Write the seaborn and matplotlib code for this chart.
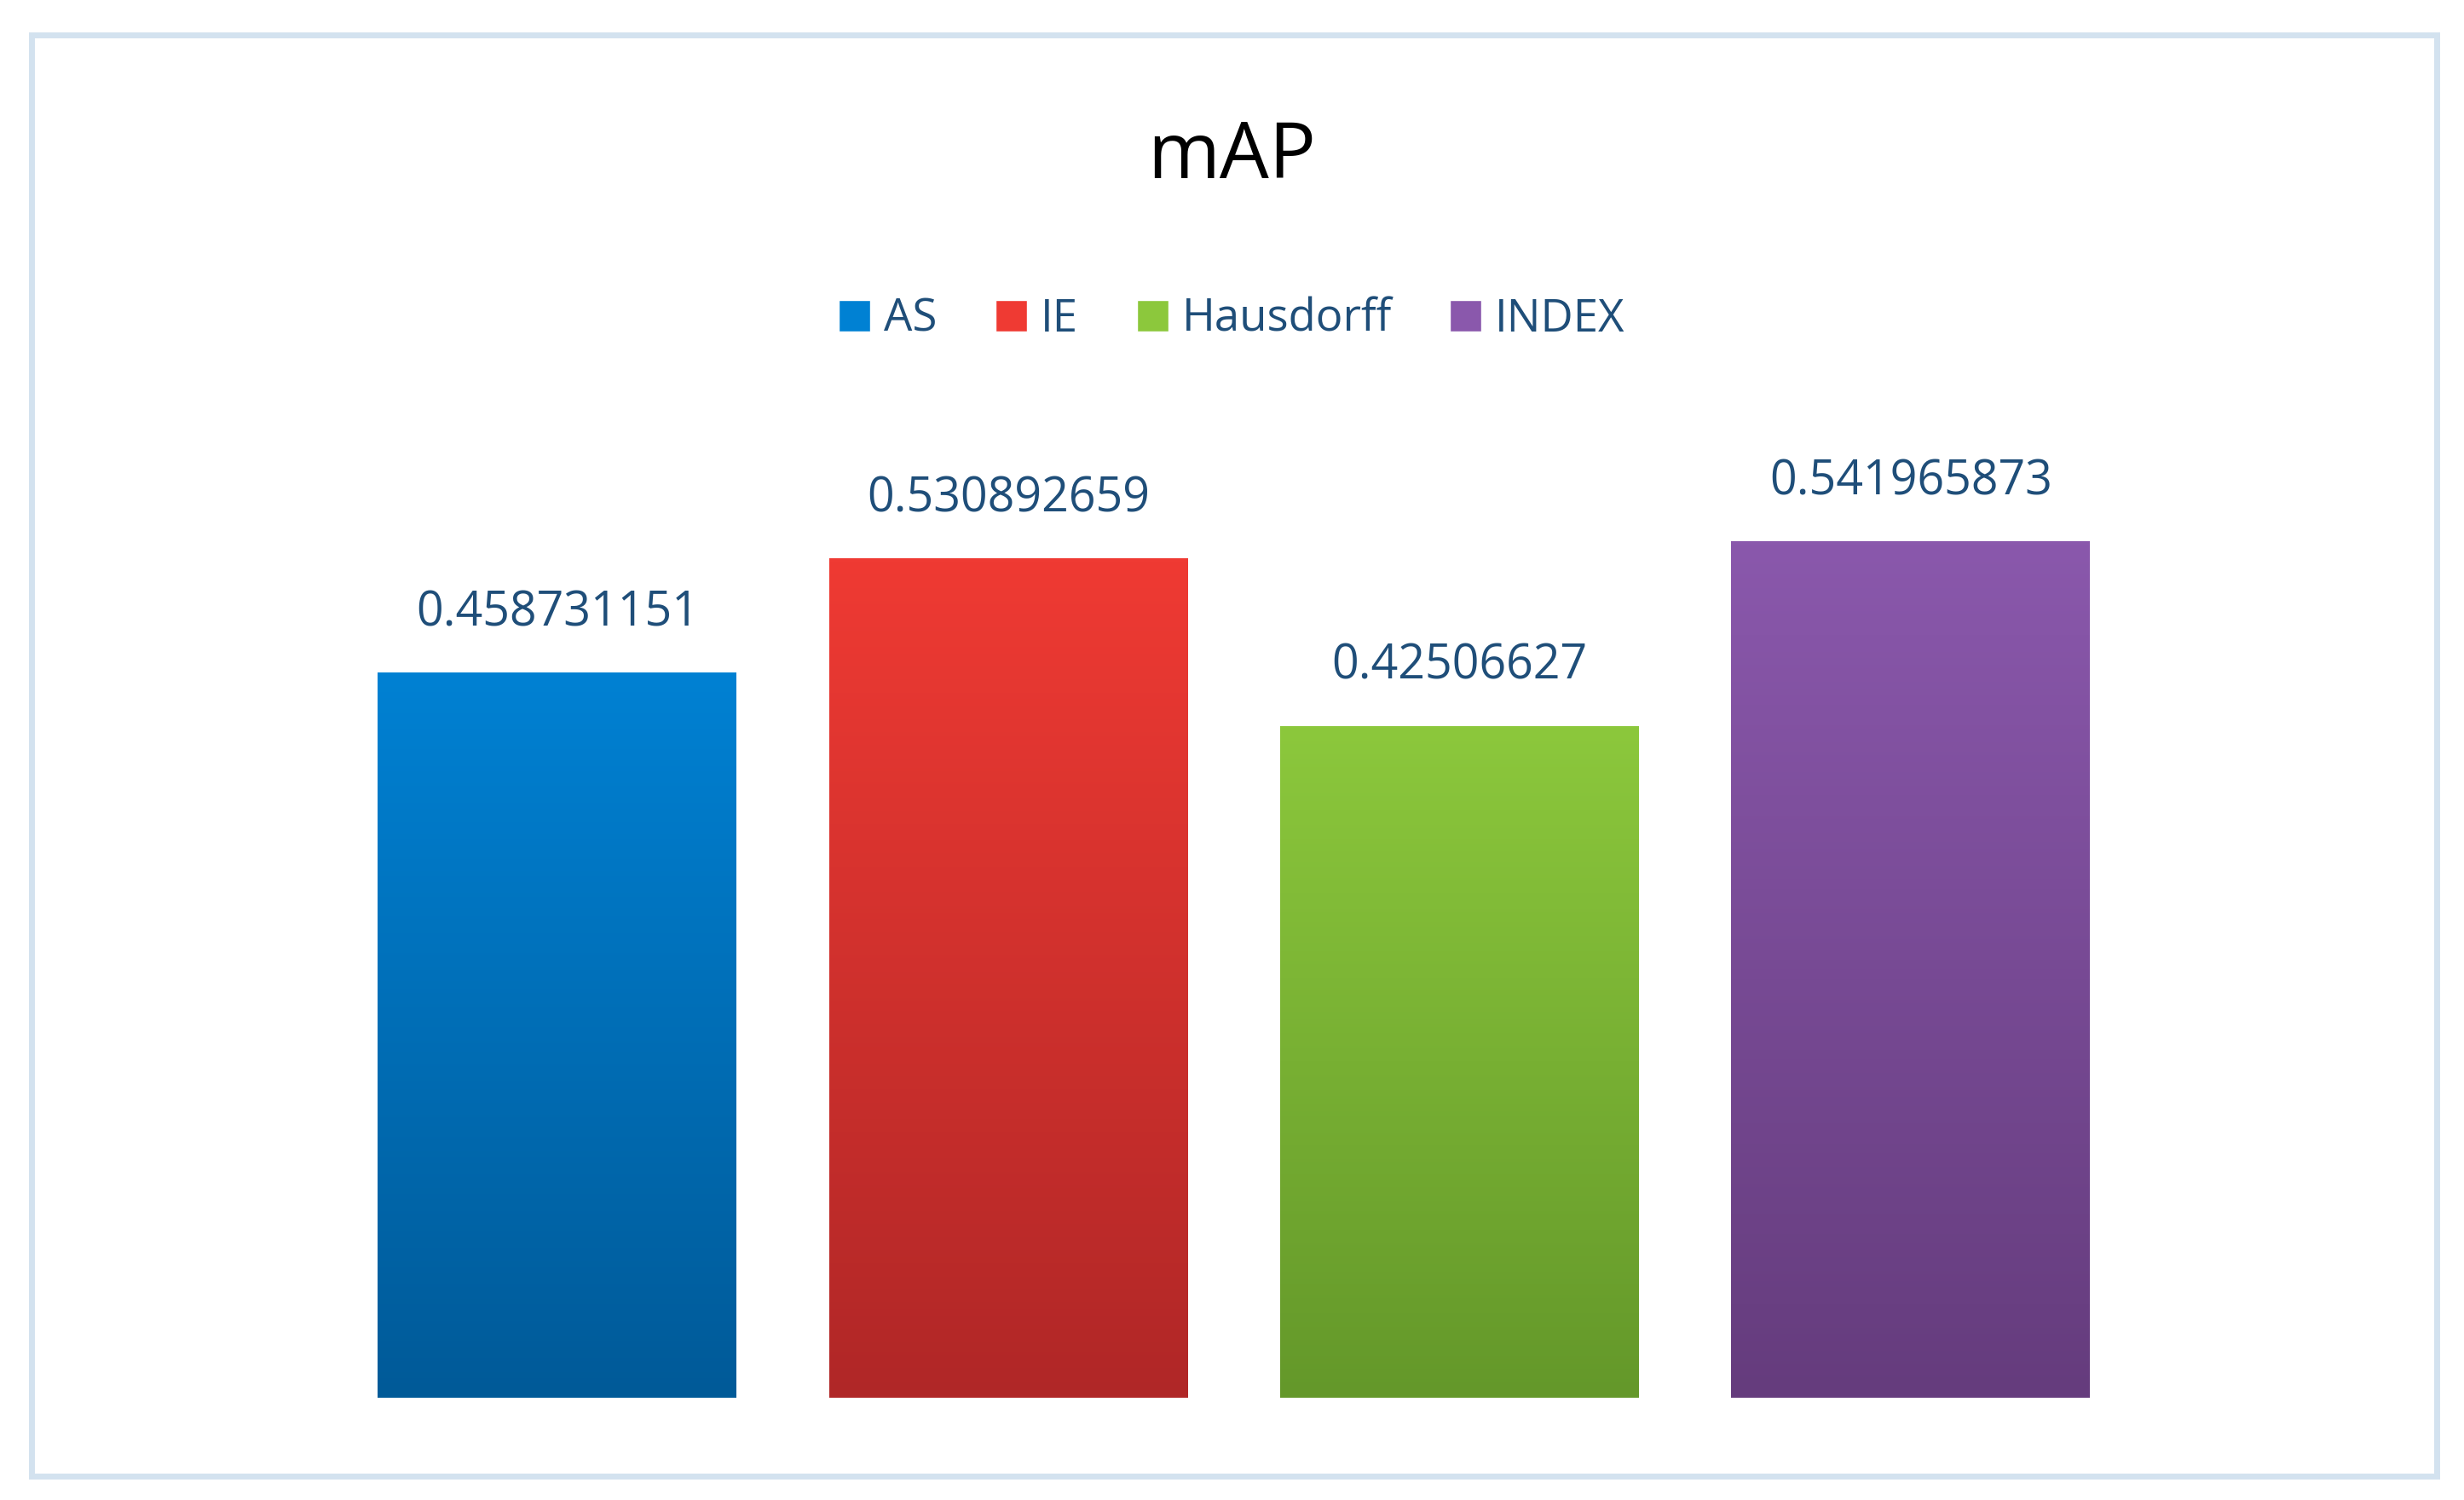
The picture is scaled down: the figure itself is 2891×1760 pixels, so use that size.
import matplotlib
matplotlib.use("Agg")
import matplotlib.pyplot as plt
import numpy as np
import pandas as pd
import seaborn as sns
from matplotlib.colors import LinearSegmentedColormap
from matplotlib.patches import Patch, Rectangle

methods = ["AS", "IE", "Hausdorff", "INDEX"]
values = [0.458731151, 0.530892659, 0.42506627, 0.541965873]
labels = ["0.458731151", "0.530892659", "0.42506627", "0.541965873"]
top_colors = ["#0081D3", "#EF3A33", "#8CC83C", "#8A58AC"]
bottom_colors = ["#005A98", "#B02727", "#64982A", "#653C7D"]

sns.set_theme(style="white")
plt.rcParams["font.family"] = ["Open Sans", "DejaVu Sans"]

fig = plt.figure(figsize=(28.91, 17.6), dpi=100)
ax = fig.add_axes([0.1346, 0.0684, 0.7324, 0.632])

df = pd.DataFrame({"method": methods, "value": values})
sns.barplot(data=df, x="method", y="value", hue="method", palette=top_colors,
            width=0.795, legend=False, ax=ax)

# vertical gradient fill clipped to each bar
for patch, c_top, c_bot in zip(ax.patches, top_colors, bottom_colors):
    x0, y0 = patch.get_x(), patch.get_y()
    w, h = patch.get_width(), patch.get_height()
    cmap = LinearSegmentedColormap.from_list("g", [c_bot, c_top])
    grad = np.linspace(1, 0, 256).reshape(-1, 1)
    im = ax.imshow(grad, extent=[x0, x0 + w, y0, y0 + h], aspect="auto",
                   cmap=cmap, zorder=patch.get_zorder() + 0.1)
    im.set_clip_path(patch)
    ax.text(x0 + w / 2, y0 + h + 0.022, labels[ax.patches.index(patch)],
            ha="center", va="bottom", fontsize=40, color="#1F4E79")

ax.set_xlim(-0.5, 3.5)
ax.set_ylim(0, 0.6)
ax.axis("off")

fig.text(0.5, 0.895, "mAP", ha="center", va="center", fontsize=66, color="#000000")

handles = [Patch(facecolor=c) for c in top_colors]
fig.legend(handles, methods, loc="center", bbox_to_anchor=(0.5, 0.787), ncol=4,
           frameon=False, fontsize=38, labelcolor="#1F4E79",
           handlelength=0.7, handleheight=0.7, handletextpad=0.3, columnspacing=1.3)

fig.add_artist(Rectangle((0.0128, 0.0158), 0.9763, 0.9611, transform=fig.transFigure,
                         fill=False, edgecolor="#D3E2EF", linewidth=5))

fig.savefig("out.png", dpi=100)
